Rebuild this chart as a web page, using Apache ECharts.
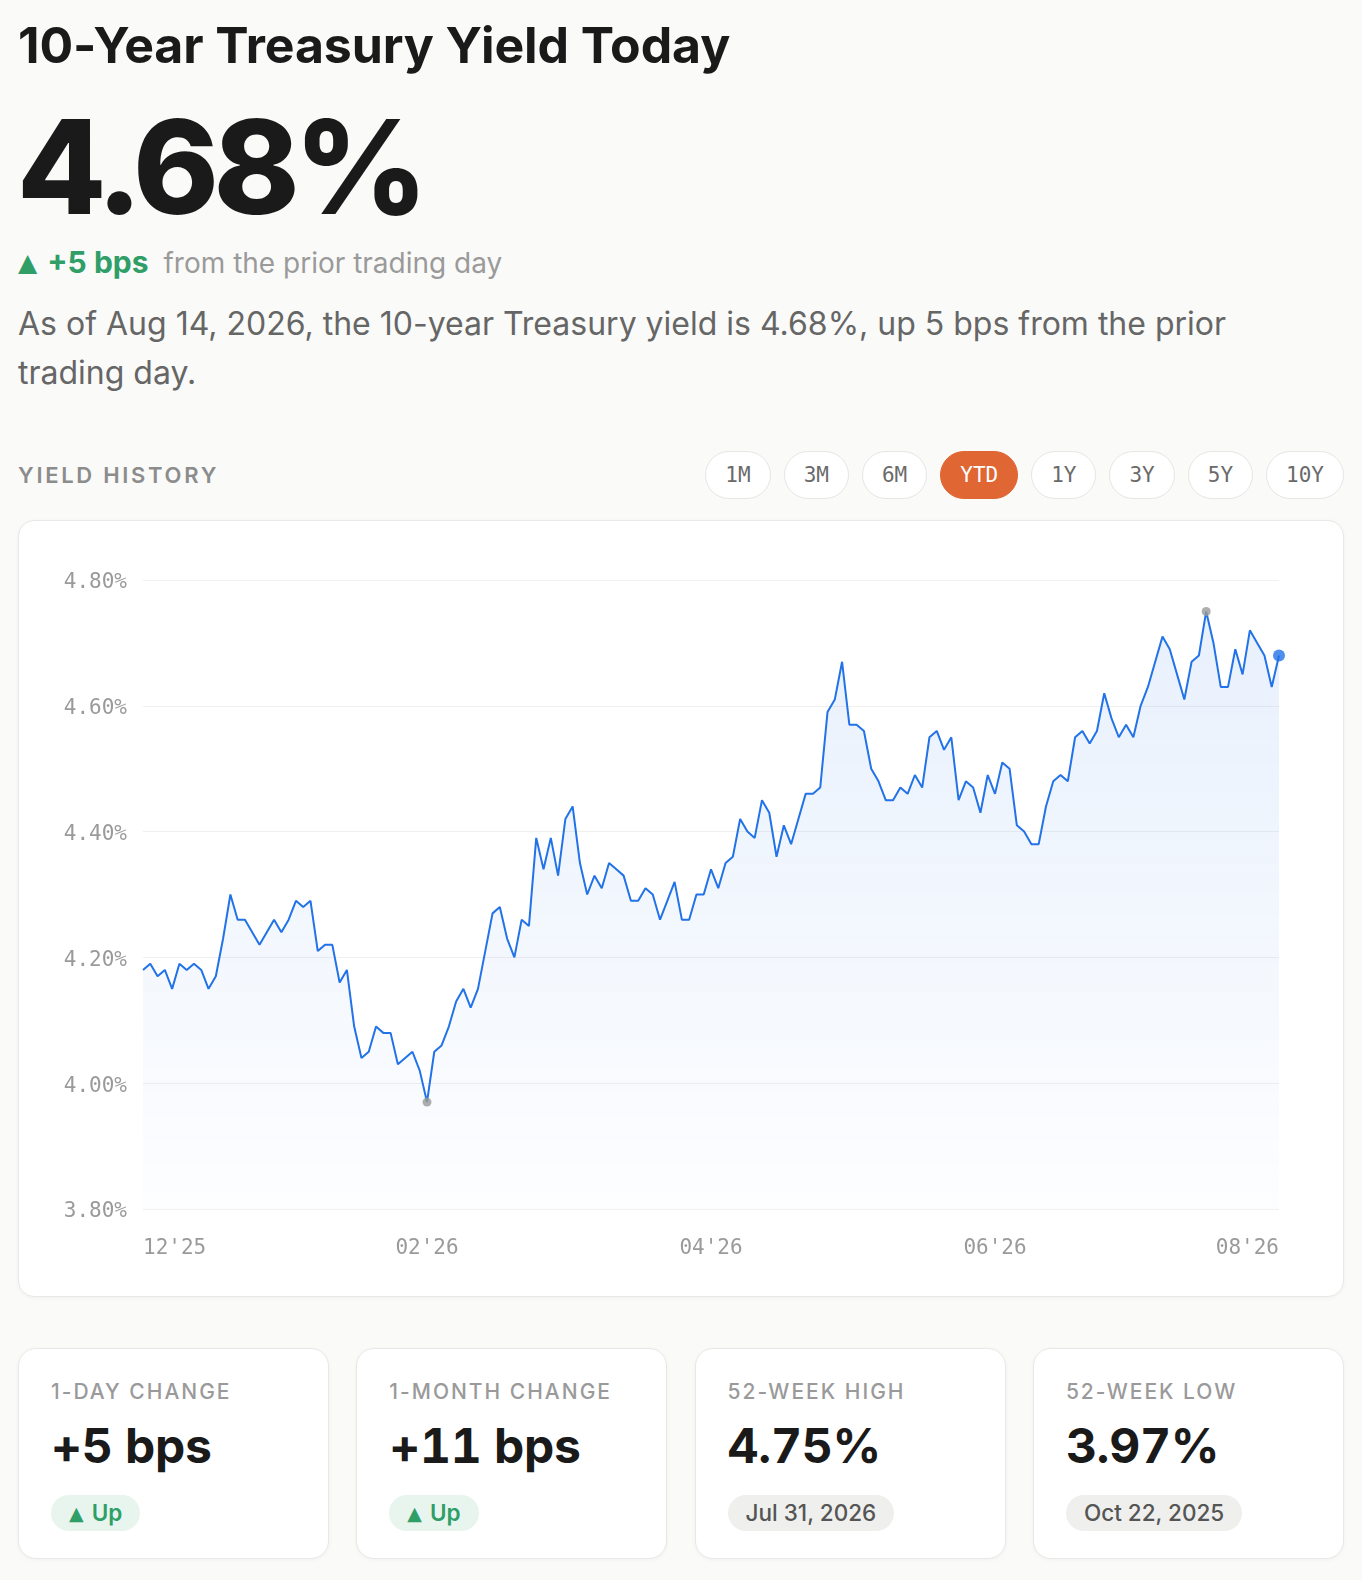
<!DOCTYPE html>
<html>
<head>
<meta charset="utf-8">
<script src="https://cdn.jsdelivr.net/npm/echarts@6.0.0/dist/echarts.min.js"></script>
<style>
  html, body { margin: 0; padding: 0; }
  body {
    width: 1362px; height: 1580px; position: relative; overflow: hidden;
    background: #fafaf9; font-family: Inter, "Noto Sans", sans-serif; color: #1a1a1a;
  }
  .abs { position: absolute; white-space: nowrap; }
  #title { left: 18px; top: 15px; font-size: 50px; line-height: 60px; font-weight: 700; letter-spacing: -0.1px; }
  #big { left: 17px; top: 102px; font-size: 130px; line-height: 130px; font-weight: 800; letter-spacing: -5.5px; }
  #delta { left: 18px; top: 245px; font-size: 28px; line-height: 34px; }
  #delta .chg { color: #2f9e67; font-weight: 700; font-size: 30px; }
  #delta .tri { font-size: 25px; font-family: "DejaVu Sans", sans-serif; vertical-align: 2px; margin-right: 10px; }
  #delta .rest { color: #9a9a9a; margin-left: 15px; }
  #summary { left: 18px; top: 300px; width: 1300px; white-space: normal; font-size: 32px; line-height: 48.5px; color: #666; }
  #hist { left: 18px; top: 460px; font-size: 22px; line-height: 30px; font-weight: 600; letter-spacing: 2.7px; color: #8c8c8c; }
  #ranges { right: 18px; top: 451px; display: flex; gap: 13px; }
  #ranges span {
    box-sizing: border-box; height: 48px; line-height: 46px; padding: 0 19px;
    border: 1px solid #e6e6e4; border-radius: 24px; background: #fff;
    font-family: "DejaVu Sans Mono", monospace; font-size: 21px; color: #6a6a6a;
  }
  #ranges span.on { background: #e06633; border-color: #e06633; color: #fff; }
  #card {
    left: 18px; top: 520px; width: 1326px; height: 777px; box-sizing: border-box;
    background: #fff; border: 1px solid #e8e8e6; border-radius: 16px;
    box-shadow: 0 1px 4px rgba(0,0,0,0.04);
  }
  #chart { width: 1324px; height: 775px; }
  .stat {
    top: 1348px; width: 311px; height: 211px; box-sizing: border-box;
    background: #fff; border: 1px solid #e8e8e6; border-radius: 18px;
    box-shadow: 0 1px 4px rgba(0,0,0,0.04);
  }
  .stat .lab { position: absolute; left: 32px; top: 30px; font-size: 21px; line-height: 26px; font-weight: 500; letter-spacing: 2px; color: #9a9a9a; }
  .stat .val { position: absolute; left: 32px; top: 69px; font-size: 48px; line-height: 56px; font-weight: 700; letter-spacing: -0.3px; font-feature-settings: "tnum"; }
  .stat .badge {
    position: absolute; left: 32px; top: 146px; height: 36px; line-height: 36px; padding: 0 18px;
    border-radius: 18px; font-size: 22.5px; font-weight: 500;
  }
  .badge.up { background: #e7f5ee; color: #2f9e67; font-weight: 600; }
  .badge.up .tri { font-size: 19px; font-family: "DejaVu Sans", sans-serif; vertical-align: 1px; margin-right: 8px; }
  .badge.date { background: #efefed; color: #555; }
</style>
</head>
<body>
<div id="title" class="abs">10-Year Treasury Yield Today</div>
<div id="big" class="abs">4.68%</div>
<div id="delta" class="abs"><span class="chg"><span class="tri">▲</span>+5 bps</span><span class="rest">from the prior trading day</span></div>
<div id="summary" class="abs">As of Aug 14, 2026, the 10-year Treasury yield is 4.68%, up 5 bps from the prior trading day.</div>
<div id="hist" class="abs">YIELD HISTORY</div>
<div id="ranges" class="abs"></div>
<div id="card" class="abs"><div id="chart"></div></div>
<div id="stats"></div>

<script>
// daily 10y yield, % (YTD view)
const yields = [
  4.18, 4.19, 4.17, 4.18, 4.15, 4.19, 4.18, 4.19, 4.18, 4.15,
  4.17, 4.23, 4.30, 4.26, 4.26, 4.24, 4.22, 4.24, 4.26, 4.24,
  4.26, 4.29, 4.28, 4.29, 4.21, 4.22, 4.22, 4.16, 4.18, 4.09,
  4.04, 4.05, 4.09, 4.08, 4.08, 4.03, 4.04, 4.05, 4.02, 3.97,
  4.05, 4.06, 4.09, 4.13, 4.15, 4.12, 4.15, 4.21, 4.27, 4.28,
  4.23, 4.20, 4.26, 4.25, 4.39, 4.34, 4.39, 4.33, 4.42, 4.44,
  4.35, 4.30, 4.33, 4.31, 4.35, 4.34, 4.33, 4.29, 4.29, 4.31,
  4.30, 4.26, 4.29, 4.32, 4.26, 4.26, 4.30, 4.30, 4.34, 4.31,
  4.35, 4.36, 4.42, 4.40, 4.39, 4.45, 4.43, 4.36, 4.41, 4.38,
  4.42, 4.46, 4.46, 4.47, 4.59, 4.61, 4.67, 4.57, 4.57, 4.56,
  4.50, 4.48, 4.45, 4.45, 4.47, 4.46, 4.49, 4.47, 4.55, 4.56,
  4.53, 4.55, 4.45, 4.48, 4.47, 4.43, 4.49, 4.46, 4.51, 4.50,
  4.41, 4.40, 4.38, 4.38, 4.44, 4.48, 4.49, 4.48, 4.55, 4.56,
  4.54, 4.56, 4.62, 4.58, 4.55, 4.57, 4.55, 4.60, 4.63, 4.67,
  4.71, 4.69, 4.65, 4.61, 4.67, 4.68, 4.75, 4.70, 4.63, 4.63,
  4.69, 4.65, 4.72, 4.70, 4.68, 4.63, 4.68
];
const xTickIndex = [0, 39, 78, 117, 156];
const xTickLabels = ["12'25", "02'26", "04'26", "06'26", "08'26"];
const yTicks = [3.8, 4.0, 4.2, 4.4, 4.6, 4.8];

const ranges = ['1M', '3M', '6M', 'YTD', '1Y', '3Y', '5Y', '10Y'];
const activeRange = 'YTD';

const stats = [
  { label: '1-DAY CHANGE', value: '+5 bps', badge: 'Up', up: true },
  { label: '1-MONTH CHANGE', value: '+11 bps', badge: 'Up', up: true },
  { label: '52-WEEK HIGH', value: '4.75%', badge: 'Jul 31, 2026', up: false },
  { label: '52-WEEK LOW', value: '3.97%', badge: 'Oct 22, 2025', up: false },
];

const rangeBox = document.querySelector('#ranges');
ranges.forEach(r => {
  rangeBox.insertAdjacentHTML('beforeend', `<span class="${r === activeRange ? 'on' : ''}">${r}</span>`);
});

const statBox = document.querySelector('#stats');
stats.forEach((s, i) => {
  statBox.insertAdjacentHTML('beforeend', `
    <div class="abs stat" style="left:${18 + i * 338.3}px">
      <div class="lab">${s.label}</div>
      <div class="val">${s.value}</div>
      <div class="badge ${s.up ? 'up' : 'date'}">${s.up ? '<span class="tri">▲</span>' : ''}${s.badge}</div>
    </div>
  `);
});

const days = yields.map((_, i) => i);
const hiIdx = yields.indexOf(Math.max(...yields));
const loIdx = yields.indexOf(Math.min(...yields));
const lastIdx = yields.length - 1;

const mono = '"DejaVu Sans Mono", monospace';
const chart = echarts.init(document.querySelector('#chart'), null, { renderer: 'canvas' });
chart.setOption({
  animation: false,
  grid: { left: 124, right: 64, top: 59, bottom: 87 },
  xAxis: {
    type: 'category',
    data: days,
    boundaryGap: false,
    axisLine: { show: false },
    axisTick: { show: false },
    splitLine: { show: false },
    axisLabel: {
      interval: (idx) => xTickIndex.includes(idx),
      formatter: (v, idx) => xTickLabels[xTickIndex.indexOf(idx)] || '',
      alignMinLabel: 'left',
      alignMaxLabel: 'right',
      margin: 29,
      color: '#9a9a9a',
      fontFamily: mono,
      fontSize: 21
    }
  },
  yAxis: {
    type: 'value',
    min: yTicks[0],
    max: yTicks[yTicks.length - 1],
    interval: 0.2,
    axisLine: { show: false },
    axisTick: { show: false },
    splitLine: { lineStyle: { color: '#f0f0ef', width: 1 } },
    axisLabel: {
      margin: 16,
      color: '#9a9a9a',
      fontFamily: mono,
      fontSize: 21,
      formatter: v => '{t|' + v.toFixed(2) + '%}',
      rich: {
        t: { color: '#9a9a9a', fontFamily: mono, fontSize: 21, padding: [6, 0, 0, 0] }
      }
    }
  },
  series: [
    {
      type: 'line',
      data: yields,
      symbol: 'none',
      lineStyle: { color: '#2272e8', width: 2 },
      areaStyle: {
        color: new echarts.graphic.LinearGradient(0, 0, 0, 1, [
          { offset: 0, color: 'rgba(34,114,232,0.15)' },
          { offset: 1, color: 'rgba(34,114,232,0.015)' }
        ])
      },
      z: 2
    },
    {
      type: 'scatter',
      data: [
        { value: [hiIdx, yields[hiIdx]], symbolSize: 9, itemStyle: { color: '#9a9a9a' } },
        { value: [loIdx, yields[loIdx]], symbolSize: 9, itemStyle: { color: '#9a9a9a' } },
        { value: [lastIdx, yields[lastIdx]], symbolSize: 12, itemStyle: { color: '#2272e8' } }
      ],
      z: 3
    }
  ]
});
</script>
</body>
</html>
